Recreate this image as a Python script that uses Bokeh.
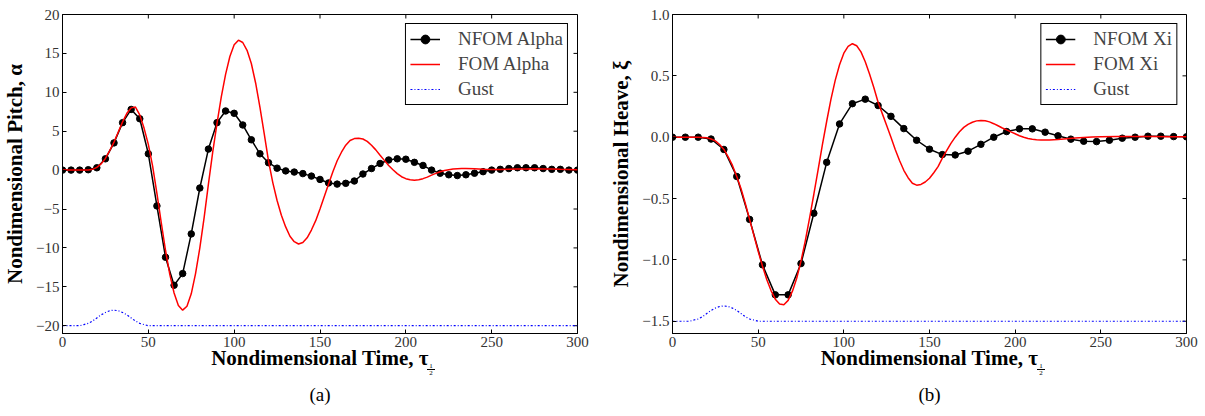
from bokeh.plotting import figure
from bokeh.models import FixedTicker, Range1d, Div, Title
from bokeh.layouts import row, column
from bokeh.embed import file_html
from bokeh.resources import INLINE

# ---------------- data ----------------
t_nfom_alpha = list(range(0, 301, 5))
alpha_nfom = [0, 0, 0, 0.05, 0.3, 1.45, 3.5, 6.1, 7.8, 6.6, 2.1, -4.6, -11.2, -14.8, -13.3,
              -8.2, -2.3, 2.7, 6.1, 7.6, 7.3, 5.8, 3.9, 2.1, 0.95, 0.25, -0.1, -0.25, -0.45,
              -0.77, -1.2, -1.65, -1.8, -1.7, -1.4, -0.5, 0.2, 0.85, 1.3, 1.45, 1.4, 1.0, 0.6,
              0.0, -0.4, -0.6, -0.7, -0.6, -0.4, -0.2, 0.0, 0.1, 0.2, 0.3, 0.3, 0.3, 0.2, 0.1,
              0.1, 0.0, 0.0]

t_fom_alpha = [0, 2.5, 5, 7.5, 10, 12.5, 15, 17.5, 20, 22.5, 25, 27.5, 30, 32.5, 35, 37.5, 40,
               42.5, 45, 47.5, 50, 52.5, 55, 57.5, 60, 62.5, 65, 67.5, 70, 72.5, 75, 77.5, 80,
               82.5, 85, 87.5, 90, 92.5, 95, 97.5, 100, 102.5, 105, 107.5, 110, 112.5, 115,
               117.5, 120, 122.5, 125, 127.5, 130, 132.5, 135, 137.5, 140, 142.5, 145, 147.5,
               150, 152.5, 155, 157.5, 160, 162.5, 165, 167.5, 170, 172.5, 175, 177.5, 180,
               182.5, 185, 187.5, 190, 192.5, 195, 197.5, 200, 202.5, 205, 207.5, 210, 212.5,
               215, 217.5, 220, 222.5, 225, 227.5, 230, 232.5, 235, 240, 245, 250, 255, 260,
               265, 270, 275, 280, 285, 290, 295, 300]
alpha_fom = [0, 0, 0, 0, 0, 0, 0.02, 0.1, 0.35, 0.8, 1.5, 2.5, 3.6, 4.9, 6.2, 7.3, 8.0,
             8.1, 7.1, 5.4, 3.3, 0.5, -3.0, -6.7, -10.3, -13.4, -15.8, -17.4, -18.0, -17.5,
             -15.9, -13.3, -10.0, -6.1, -1.8, 2.3, 6.0, 9.4, 12.3, 14.6, 16.1, 16.7, 16.4,
             15.4, 13.7, 11.2, 8.1, 4.7, 1.2, -1.6, -3.9, -5.8, -7.3, -8.5, -9.2, -9.5, -9.3,
             -8.7, -7.7, -6.5, -5.0, -3.4, -1.8, -0.2, 1.2, 2.3, 3.2, 3.8, 4.05, 4.1, 4.0,
             3.7, 3.2, 2.6, 1.9, 1.25, 0.6, 0.05, -0.45, -0.85, -1.1, -1.25, -1.3, -1.25,
             -1.1, -0.9, -0.65, -0.42, -0.22, -0.06, 0.05, 0.13, 0.18, 0.2, 0.2, 0.17, 0.12,
             0.08, 0.07, 0.1, 0.13, 0.15, 0.16, 0.15, 0.13, 0.1, 0.08, 0.05]

t_nfom_xi = [0, 7.5, 15, 22.5, 30, 37.5, 45, 52.5, 60, 67.5, 75, 82.5, 90, 97.5, 105, 112.5,
             120, 127.5, 135, 142.5, 150, 157.5, 165, 172.5, 180, 187.5, 195, 202.5, 210,
             217.5, 225, 232.5, 240, 247.5, 255, 262.5, 270, 277.5, 285, 292.5, 300]
xi_nfom = [0, 0, 0, -0.015, -0.10, -0.32, -0.67, -1.04, -1.285, -1.285, -1.03, -0.62, -0.205,
           0.108, 0.273, 0.31, 0.258, 0.17, 0.07, -0.025, -0.098, -0.142, -0.145, -0.114,
           -0.058, 0.0, 0.046, 0.068, 0.068, 0.041, 0.011, -0.016, -0.033, -0.036, -0.025,
           -0.008, 0.0, 0.008, 0.008, 0.005, 0.003]

t_fom_xi = [0, 2.5, 5, 7.5, 10, 12.5, 15, 17.5, 20, 22.5, 25, 27.5, 30, 32.5, 35, 37.5, 40,
            42.5, 45, 47.5, 50, 52.5, 55, 57.5, 60, 62.5, 65, 67.5, 70, 72.5, 75, 77.5, 80,
            82.5, 85, 87.5, 90, 92.5, 95, 97.5, 100, 102.5, 105, 107.5, 110, 112.5, 115,
            117.5, 120, 122.5, 125, 127.5, 130, 132.5, 135, 137.5, 140, 142.5, 145, 147.5,
            150, 152.5, 155, 157.5, 160, 162.5, 165, 167.5, 170, 172.5, 175, 177.5, 180,
            182.5, 185, 187.5, 190, 192.5, 195, 197.5, 200, 202.5, 205, 207.5, 210, 212.5,
            215, 217.5, 220, 222.5, 225, 230, 235, 240, 245, 250, 260, 270, 280, 290, 300]
xi_fom = [0, 0, 0, 0, 0, 0, 0, -0.002, -0.005, -0.015, -0.03, -0.06, -0.10, -0.16, -0.23,
          -0.32, -0.42, -0.54, -0.67, -0.80, -0.93, -1.05, -1.16, -1.25, -1.32, -1.36, -1.365,
          -1.33, -1.255, -1.15, -1.01, -0.845, -0.66, -0.465, -0.265, -0.06, 0.13, 0.31,
          0.465, 0.59, 0.685, 0.74, 0.762, 0.745, 0.695, 0.615, 0.515, 0.405, 0.285, 0.19,
          0.095, 0.0, -0.1, -0.19, -0.27, -0.33, -0.375, -0.391, -0.385, -0.365, -0.335,
          -0.29, -0.24, -0.17, -0.11, -0.05, 0.0, 0.045, 0.08, 0.105, 0.122, 0.133, 0.136,
          0.134, 0.125, 0.11, 0.093, 0.075, 0.06, 0.043, 0.028, 0.012, 0.0, -0.01, -0.016,
          -0.02, -0.022, -0.023, -0.022, -0.02, -0.018, -0.012, -0.006, -0.002, 0.001, 0.003,
          0.005, 0.006, 0.006, 0.004, 0.003]

t_gust = [0, 10, 12.5, 15, 17.5, 20, 22.5, 25, 27.5, 30, 32.5, 35, 37.5, 40, 42.5, 45, 47.5,
          50, 300]
gust_alpha = [-20, -20, -19.85, -19.7, -19.4, -19.0, -18.6, -18.3, -18.07, -18.0, -18.07,
              -18.3, -18.6, -19.0, -19.4, -19.7, -19.85, -20, -20]
gust_xi = [-1.5, -1.5, -1.49, -1.482, -1.463, -1.4375, -1.412, -1.393, -1.38, -1.375, -1.38,
           -1.393, -1.412, -1.4375, -1.463, -1.482, -1.49, -1.5, -1.5]

x_ticks = [0, 50, 100, 150, 200, 250, 300]
alpha_ticks = [-20, -15, -10, -5, 0, 5, 10, 15, 20]
alpha_tick_labels = ["\u221220", "\u221215", "\u221210", "\u22125", "0", "5", "10", "15", "20"]
xi_ticks = [-1.5, -1.0, -0.5, 0.0, 0.5, 1.0]
xi_tick_labels = ["\u22121.5", "\u22121.0", "\u22120.5", "0.0", "0.5", "1.0"]

SERIF = "Liberation Serif"
FRAME_H = 319
TICK_LEN = 4


def make_fig(ylo, yhi, yticks, ylabels, ylabel, names, nfom_t, nfom_v, fom_t, fom_v,
             gust_v, caption, bl, br, fw):
    p = figure(frame_width=fw, frame_height=FRAME_H, x_range=Range1d(0, 300),
               y_range=Range1d(ylo, yhi), output_backend="svg", toolbar_location=None,
               min_border_left=bl, min_border_right=br, min_border_top=14,
               min_border_bottom=82)
    p.xgrid.visible = False
    p.ygrid.visible = False
    p.outline_line_color = "black"
    p.outline_line_width = 1
    p.outline_line_alpha = 1

    for ax in (p.xaxis[0], p.yaxis[0]):
        ax.major_tick_in = TICK_LEN
        ax.major_tick_out = 0
        ax.minor_tick_in = 0
        ax.minor_tick_out = 0
        ax.axis_line_color = "black"
        ax.major_tick_line_color = "black"
        ax.major_label_text_font = SERIF
        ax.major_label_text_font_size = "15px"
        ax.major_label_text_color = "#333333"
        ax.major_label_standoff = 3
        ax.axis_label_text_font = SERIF
        ax.axis_label_text_font_size = "21px"
        ax.axis_label_text_font_style = "bold"
        ax.axis_label_text_color = "black"
    p.xaxis.ticker = FixedTicker(ticks=x_ticks)
    p.xaxis.major_label_overrides = {v: str(v) for v in x_ticks}
    p.xaxis.axis_label = "Nondimensional Time, \u03c4"
    p.xaxis.axis_label_standoff = -4
    p.yaxis.ticker = FixedTicker(ticks=yticks)
    p.yaxis.major_label_overrides = dict(zip(yticks, ylabels))
    p.yaxis.axis_label = ylabel
    p.yaxis.axis_label_standoff = 6

    p.add_layout(Title(text=caption, align="center", text_font=SERIF,
                       text_font_size="19px", text_font_style="normal",
                       text_color="black", standoff=18), "below")

    # inward ticks on the top and right spines (matplotlib box style)
    dy = TICK_LEN * (yhi - ylo) / FRAME_H
    dx = TICK_LEN * 300 / fw
    p.segment(x0=x_ticks, y0=[yhi] * len(x_ticks), x1=x_ticks, y1=[yhi - dy] * len(x_ticks),
              line_color="black", line_width=1)
    p.segment(x0=[300] * len(yticks), y0=yticks, x1=[300 - dx] * len(yticks), y1=yticks,
              line_color="black", line_width=1)

    p.line(nfom_t, nfom_v, line_color="black", line_width=1.5, legend_label=names[0])
    p.scatter(nfom_t, nfom_v, size=6.5, marker="circle", fill_color="black",
              line_color="black", legend_label=names[0])
    p.line(fom_t, fom_v, line_color="#ff0000", line_width=1.5, legend_label=names[1])
    p.line(t_gust, gust_v, line_color="#0000ff", line_width=1.2, line_dash="2 2 1 2",
           legend_label=names[2])

    lg = p.legend[0]
    lg.location = "top_right"
    lg.margin = 9
    lg.padding = 4
    lg.spacing = 3
    lg.label_text_font = SERIF
    lg.label_text_font_size = "19px"
    lg.label_height = 22
    lg.glyph_height = 22
    lg.glyph_width = 30
    lg.label_standoff = 18
    lg.border_line_color = "black"
    lg.border_line_width = 1
    lg.border_line_alpha = 1
    lg.background_fill_alpha = 1
    return p


def frac_div(left, width):
    # the stacked 1/2 subscript of tau, set just after the axis label
    html = (f'<div style="position:relative;top:-57px;left:{left}px;width:8px;'
            f'font-family:\'{SERIF}\';font-size:7px;line-height:6px;text-align:center;'
            f'color:#000;"><div>1</div><div style="border-top:1px solid #000;">2</div></div>')
    return Div(text=html, width=width, height=1)


p1 = make_fig(-21, 20, alpha_ticks, alpha_tick_labels, "Nondimensional Pitch, \u03b1",
              ["NFOM Alpha", "FOM Alpha", "Gust"], t_nfom_alpha, alpha_nfom,
              t_fom_alpha, alpha_fom, gust_alpha, "(a)", 62, 28, 515)
p2 = make_fig(-1.6, 1.0, xi_ticks, xi_tick_labels, "Nondimensional Heave, \u03be",
              ["NFOM Xi", "FOM Xi", "Gust"], t_nfom_xi, xi_nfom,
              t_fom_xi, xi_fom, gust_xi, "(b)", 67, 19, 514)

d1 = frac_div(422, 605)
d2 = frac_div(417, 600)

layout = column(row(p1, p2, spacing=0), row(d1, d2, spacing=0), spacing=0)
open("out.html", "w").write(file_html(layout, INLINE))
